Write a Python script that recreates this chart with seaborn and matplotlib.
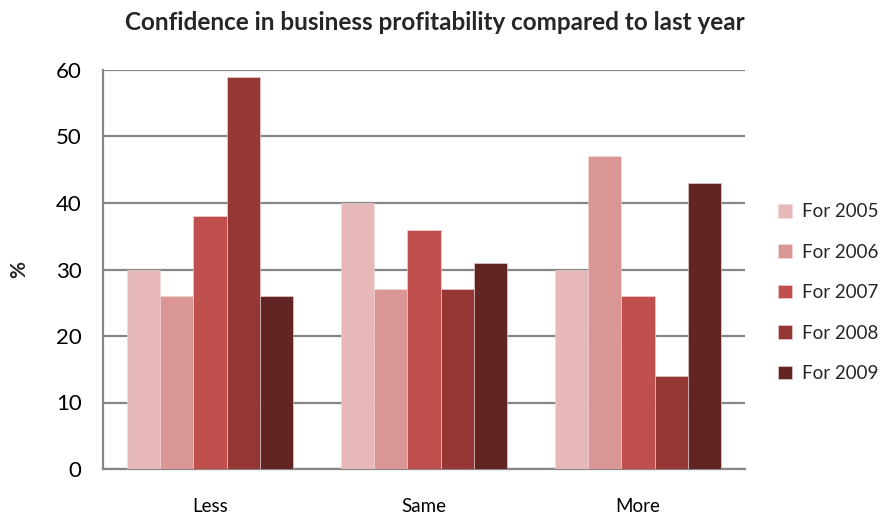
import matplotlib
matplotlib.use("Agg")
import matplotlib.pyplot as plt
import seaborn as sns
import pandas as pd

categories = ["Less", "Same", "More"]
series_names = ["For 2005", "For 2006", "For 2007", "For 2008", "For 2009"]
values_2005 = [30, 40, 30]
values_2006 = [26, 27, 47]
values_2007 = [38, 36, 26]
values_2008 = [59, 27, 14]
values_2009 = [26, 31, 43]
colors = ["#E6B9B8", "#D99694", "#C0504D", "#953735", "#632523"]
yticks = [0, 10, 20, 30, 40, 50, 60]

all_vals = [values_2005, values_2006, values_2007, values_2008, values_2009]
rows = []
for name, vals in zip(series_names, all_vals):
    for c, v in zip(categories, vals):
        rows.append({"Category": c, "Year": name, "Value": v})
df = pd.DataFrame(rows)

sns.set_theme(style="white")
plt.rcParams["font.family"] = ["Lato", "DejaVu Sans"]

fig = plt.figure(figsize=(8.83, 5.15), dpi=100)
ax = fig.add_axes([103/883, 46/515, (745-103)/883, (469-70)/515])

sns.barplot(data=df, x="Category", y="Value", hue="Year", order=categories,
            hue_order=series_names, palette=colors, saturation=1, width=0.775, gap=0,
            edgecolor="#f0dada", linewidth=0.4, ax=ax, legend=True, zorder=3)

ax.set_ylim(0, 60)
ax.set_xlim(-0.5, 2.5)
ax.set_yticks(yticks)
ax.set_yticklabels([str(t) for t in yticks], fontsize=16)
ax.yaxis.grid(True, color="#868686", linewidth=1.6, zorder=0)
ax.set_axisbelow(True)
for s in ["top", "right"]:
    ax.spines[s].set_visible(False)
for s in ["left", "bottom"]:
    ax.spines[s].set_color("#868686")
    ax.spines[s].set_linewidth(1.6)
ax.tick_params(axis="y", direction="out", length=7, width=1.6, color="#868686",
               pad=8.5, labelcolor="#000000")
ax.tick_params(axis="x", length=0, pad=21, labelsize=13.5, labelcolor="#000000")
ax.set_xlabel("")
ax.set_ylabel("%", fontsize=15, fontweight="bold", labelpad=19)

fig.text(435/883, 1 - 22/515, "Confidence in business profitability compared to last year",
         ha="center", va="center", fontsize=17.5, fontweight="bold")

leg = ax.legend(loc="center left", bbox_to_anchor=(1.04, 0.442), frameon=False,
                fontsize=13.5, handlelength=0.75, handleheight=0.75,
                handletextpad=0.5, labelspacing=1.25, borderaxespad=0)

fig.savefig("out.png", dpi=100)
